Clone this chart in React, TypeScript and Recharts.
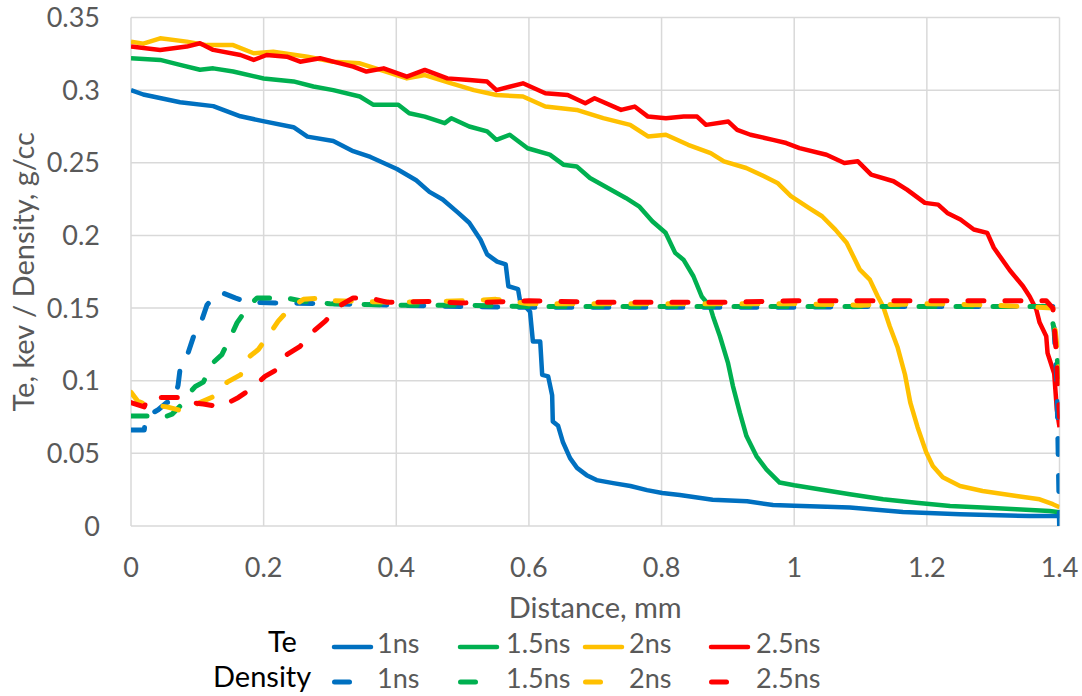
import React from 'react';
import { LineChart, Line, XAxis, YAxis, CartesianGrid } from 'recharts';

// ---- axis ticks ----
const xTicks = [0, 0.2, 0.4, 0.6, 0.8, 1, 1.2, 1.4];
const yTicks = [0, 0.05, 0.1, 0.15, 0.2, 0.25, 0.3, 0.35];

// ---- series meta ----
const seriesNames = ['1ns', '1.5ns', '2ns', '2.5ns'];
const seriesColors = ['#0070C0', '#00B050', '#FFC000', '#FF0000'];
const groupNames = ['Te', 'Density'];

// ---- Te (solid) : [distance mm, value] ----
const te1ns: [number, number][] = [
  [0, 0.3], [0.0185, 0.297], [0.074, 0.2917], [0.124, 0.289], [0.165, 0.282], [0.199, 0.2787],
  [0.245, 0.2745], [0.266, 0.268], [0.305, 0.265], [0.335, 0.258], [0.361, 0.254], [0.401, 0.2457],
  [0.43, 0.238], [0.45, 0.23], [0.47, 0.2247], [0.4935, 0.2155], [0.51, 0.2087], [0.527, 0.197],
  [0.537, 0.187], [0.552, 0.182], [0.565, 0.18], [0.569, 0.165], [0.5836, 0.163], [0.5866, 0.155],
  [0.6017, 0.1475], [0.606, 0.127], [0.617, 0.127], [0.62, 0.104], [0.629, 0.103], [0.635, 0.09],
  [0.636, 0.072], [0.644, 0.069], [0.651, 0.058], [0.662, 0.0467], [0.6725, 0.04], [0.687, 0.035],
  [0.702, 0.0316], [0.727, 0.0295], [0.753, 0.0275], [0.778, 0.0247], [0.801, 0.0227], [0.8275, 0.0213],
  [0.877, 0.018], [0.929, 0.017], [0.968, 0.0144], [1.0, 0.014], [1.084, 0.0127], [1.164, 0.0097],
  [1.25, 0.0081], [1.355, 0.0069], [1.4, 0.0069],
];

const te15ns: [number, number][] = [
  [0, 0.322], [0.044, 0.3208], [0.074, 0.3174], [0.104, 0.314], [0.124, 0.315], [0.154, 0.3128],
  [0.2, 0.308], [0.245, 0.306], [0.275, 0.3025], [0.305, 0.3], [0.345, 0.2956], [0.365, 0.29],
  [0.403, 0.29], [0.4195, 0.2841], [0.443, 0.2818], [0.473, 0.2773], [0.483, 0.2807], [0.51, 0.275],
  [0.537, 0.2716], [0.551, 0.2658], [0.571, 0.2693], [0.598, 0.26], [0.6315, 0.2556], [0.652, 0.2487],
  [0.672, 0.2475], [0.692, 0.2395], [0.719, 0.2327], [0.746, 0.2258], [0.766, 0.22], [0.786, 0.2098],
  [0.806, 0.2018], [0.8205, 0.188], [0.833, 0.1833], [0.848, 0.1719], [0.8605, 0.158], [0.873, 0.1512],
  [0.8775, 0.1444], [0.888, 0.1306], [0.9, 0.1125], [0.9076, 0.0963], [0.918, 0.078], [0.928, 0.0619],
  [0.943, 0.0481], [0.958, 0.039], [0.978, 0.0299], [1.0, 0.028], [1.084, 0.0218], [1.134, 0.0184],
  [1.184, 0.016], [1.235, 0.0138], [1.284, 0.0127], [1.335, 0.0115], [1.385, 0.0103], [1.4, 0.0095],
];

const te2ns: [number, number][] = [
  [0, 0.3334], [0.0186, 0.332], [0.044, 0.3357], [0.084, 0.3334], [0.1145, 0.331], [0.154, 0.331],
  [0.185, 0.3254], [0.2145, 0.3265], [0.266, 0.323], [0.305, 0.3196], [0.345, 0.3185], [0.376, 0.3139],
  [0.416, 0.3081], [0.443, 0.3104], [0.483, 0.3047], [0.517, 0.3], [0.551, 0.2967], [0.591, 0.2956],
  [0.6247, 0.2887], [0.672, 0.2864], [0.712, 0.2807], [0.7526, 0.2761], [0.7795, 0.2681], [0.8065, 0.2693],
  [0.84, 0.2624], [0.874, 0.2567], [0.894, 0.251], [0.9276, 0.2464], [0.9545, 0.2407], [0.9747, 0.2361],
  [0.995, 0.227], [1.022, 0.219], [1.042, 0.2132], [1.062, 0.204], [1.079, 0.195], [1.099, 0.1764],
  [1.114, 0.1696], [1.126, 0.158], [1.134, 0.1512], [1.144, 0.1375], [1.156, 0.1228], [1.167, 0.1043],
  [1.175, 0.085], [1.186, 0.068], [1.199, 0.0507], [1.209, 0.0413], [1.224, 0.0335], [1.25, 0.0275],
  [1.284, 0.0241], [1.335, 0.0207], [1.37, 0.0184], [1.39, 0.015], [1.4, 0.013],
];

const te25ns: [number, number][] = [
  [0, 0.33], [0.044, 0.3277], [0.084, 0.33], [0.104, 0.3323], [0.124, 0.3277], [0.165, 0.3242],
  [0.185, 0.3208], [0.2045, 0.3242], [0.235, 0.323], [0.255, 0.3196], [0.285, 0.322], [0.305, 0.3196],
  [0.335, 0.3162], [0.355, 0.3128], [0.381, 0.315], [0.416, 0.3093], [0.443, 0.3139], [0.477, 0.3081],
  [0.51, 0.307], [0.537, 0.3059], [0.551, 0.3], [0.591, 0.3047], [0.6247, 0.2979], [0.6584, 0.2967],
  [0.685, 0.291], [0.699, 0.2944], [0.739, 0.2864], [0.7594, 0.2887], [0.7795, 0.2818], [0.8065, 0.2807],
  [0.8334, 0.2818], [0.8536, 0.2818], [0.867, 0.2761], [0.9007, 0.2784], [0.914, 0.2727], [0.934, 0.2693],
  [0.968, 0.2658], [0.988, 0.2636], [1.008, 0.2601], [1.0487, 0.2555], [1.0756, 0.2498], [1.096, 0.251],
  [1.116, 0.2418], [1.1497, 0.2373], [1.17, 0.2315], [1.197, 0.2224], [1.217, 0.2212], [1.2308, 0.2155],
  [1.2506, 0.211], [1.2708, 0.2041], [1.291, 0.2018], [1.301, 0.1915], [1.325, 0.176], [1.345, 0.165],
  [1.355, 0.158], [1.365, 0.149], [1.37, 0.14], [1.38, 0.1306], [1.382, 0.119], [1.392, 0.105],
  [1.396, 0.08], [1.4, 0.068],
];

// ---- Density (dashed) ----
const dens1ns: [number, number][] = [
  [0, 0.066], [0.02, 0.066], [0.022, 0.075], [0.041, 0.08], [0.054, 0.085], [0.065, 0.086],
  [0.071, 0.097], [0.074, 0.108], [0.086, 0.119], [0.094, 0.13], [0.107, 0.142], [0.1145, 0.152],
  [0.125, 0.158], [0.135, 0.161], [0.157, 0.157], [0.175, 0.154], [0.22, 0.1535], [0.3, 0.153],
  [0.4, 0.152], [0.5, 0.151], [0.6, 0.1505], [0.7, 0.1505], [0.8, 0.1505], [0.9, 0.1505],
  [1.0, 0.1505], [1.1, 0.151], [1.2, 0.151], [1.3, 0.151], [1.39, 0.151], [1.396, 0.1], [1.4, 0.0],
];

const dens15ns: [number, number][] = [
  [0, 0.0757], [0.03, 0.0757], [0.045, 0.074], [0.062, 0.077], [0.074, 0.0825], [0.085, 0.09],
  [0.097, 0.096], [0.109, 0.099], [0.124, 0.1125], [0.137, 0.118], [0.152, 0.132], [0.16, 0.14],
  [0.177, 0.151], [0.19, 0.157], [0.235, 0.157], [0.255, 0.155], [0.3, 0.153], [0.4, 0.152],
  [0.5, 0.152], [0.6, 0.151], [0.7, 0.151], [0.8, 0.151], [0.9, 0.151], [1.0, 0.151],
  [1.1, 0.151], [1.2, 0.151], [1.3, 0.151], [1.385, 0.151], [1.392, 0.135], [1.4, 0.1],
];

const dens2ns: [number, number][] = [
  [0, 0.092], [0.01, 0.086], [0.02, 0.084], [0.054, 0.082], [0.079, 0.079], [0.104, 0.085],
  [0.124, 0.089], [0.145, 0.099], [0.165, 0.104], [0.177, 0.116], [0.192, 0.1215], [0.21, 0.133],
  [0.222, 0.141], [0.24, 0.15], [0.26, 0.156], [0.29, 0.157], [0.305, 0.155], [0.4, 0.154],
  [0.5, 0.155], [0.55, 0.156], [0.6, 0.153], [0.7, 0.153], [0.8, 0.153], [0.9, 0.153],
  [1.0, 0.153], [1.1, 0.152], [1.2, 0.153], [1.3, 0.152], [1.39, 0.15], [1.397, 0.12], [1.4, 0.09],
];

const dens25ns: [number, number][] = [
  [0, 0.085], [0.02, 0.082], [0.025, 0.088], [0.052, 0.0885], [0.082, 0.0885], [0.09, 0.085],
  [0.109, 0.084], [0.135, 0.082], [0.162, 0.0885], [0.183, 0.095], [0.202, 0.103], [0.22, 0.1077],
  [0.235, 0.118], [0.255, 0.1237], [0.275, 0.134], [0.293, 0.141], [0.3125, 0.151], [0.335, 0.157],
  [0.36, 0.157], [0.386, 0.154], [0.45, 0.1545], [0.5, 0.1535], [0.6, 0.155], [0.7, 0.154],
  [0.8, 0.154], [0.9, 0.154], [1.0, 0.155], [1.1, 0.155], [1.2, 0.155], [1.3, 0.155],
  [1.38, 0.155], [1.39, 0.15], [1.395, 0.12], [1.4, 0.075],
];

const teSeries = [te1ns, te15ns, te2ns, te25ns];
const densitySeries = [dens1ns, dens15ns, dens2ns, dens25ns];

const toRows = (pts: [number, number][]) => pts.map(([x, y]) => ({ x, y }));

const FONT = 'Lato, "Open Sans", sans-serif';
const GREY = '#595959';

const XTitle = (props: any) => {
  const vb = props.viewBox || { x: 131, y: 526, width: 929, height: 100 };
  return (
    <text x={vb.x + vb.width / 2} y={vb.y + 92} textAnchor="middle" fill={GREY} fontSize={29} fontFamily={FONT}>
      Distance, mm
    </text>
  );
};

const YTitle = (props: any) => {
  const vb = props.viewBox || { x: 0, y: 17.5, width: 131, height: 508.5 };
  const cx = vb.x + 34;
  const cy = vb.y + vb.height / 2;
  return (
    <text x={cx} y={cy} transform={`rotate(-90 ${cx} ${cy})`} textAnchor="middle" fill={GREY} fontSize={29} fontFamily={FONT}>
      Te, kev / Density, g/cc
    </text>
  );
};

const lineStarts = [332, 458, 583, 709];
const labelStarts = [377, 506, 629, 756];

const LegendBlock = () => (
  <svg width={1082} height={696} style={{ position: 'absolute', left: 0, top: 0, pointerEvents: 'none' }}>
    <text x={268} y={652} fontSize={29} fontFamily={FONT} fill="#000">{groupNames[0]}</text>
    <text x={213} y={687} fontSize={29} fontFamily={FONT} fill="#000">{groupNames[1]}</text>
    {seriesNames.map((name, i) => (
      <g key={name}>
        <line x1={lineStarts[i] + 2} x2={lineStarts[i] + 39} y1={647} y2={647} stroke={seriesColors[i]} strokeWidth={4.5} strokeLinecap="round" />
        <text x={labelStarts[i]} y={653} fontSize={27} fontFamily={FONT} fill={GREY}>{name}</text>
        <line x1={lineStarts[i] + 2.5} x2={lineStarts[i] + 17.5} y1={682} y2={682} stroke={seriesColors[i]} strokeWidth={5} strokeLinecap="round" />
        <text x={labelStarts[i]} y={688} fontSize={27} fontFamily={FONT} fill={GREY}>{name}</text>
      </g>
    ))}
  </svg>
);

export default function App() {
  return (
    <div style={{ position: 'absolute', left: 0, top: 0, width: 1082, height: 696, background: '#fff' }}>
      <LineChart width={1082} height={696} margin={{ top: 17.5, right: 22.5, left: 0, bottom: 70 }}>
        <CartesianGrid stroke="#D9D9D9" strokeWidth={1.5} />
        <XAxis
          type="number"
          dataKey="x"
          domain={[0, 1.4]}
          ticks={xTicks}
          allowDataOverflow
          axisLine={false}
          tickLine={false}
          tickSize={0}
          tickMargin={32}
          height={100}
          tick={{ fill: GREY, fontSize: 27, fontFamily: FONT }}
          label={XTitle}
        />
        <YAxis
          type="number"
          domain={[0, 0.35]}
          ticks={yTicks}
          allowDataOverflow
          axisLine={false}
          tickLine={false}
          tickSize={0}
          tickMargin={31}
          width={131}
          tick={{ fill: GREY, fontSize: 27, fontFamily: FONT }}
          label={YTitle}
        />
        {teSeries.map((s, i) => (
          <Line
            key={'te' + i}
            data={toRows(s)}
            dataKey="y"
            type="linear"
            stroke={seriesColors[i]}
            strokeWidth={4.5}
            strokeLinejoin="round"
            dot={false}
            activeDot={false}
            isAnimationActive={false}
            name={groupNames[0] + ' ' + seriesNames[i]}
          />
        ))}
        {densitySeries.map((s, i) => (
          <Line
            key={'d' + i}
            data={toRows(s)}
            dataKey="y"
            type="linear"
            stroke={seriesColors[i]}
            strokeWidth={5}
            strokeDasharray="16 21"
            strokeLinecap="round"
            strokeLinejoin="round"
            dot={false}
            activeDot={false}
            isAnimationActive={false}
            name={groupNames[1] + ' ' + seriesNames[i]}
          />
        ))}
      </LineChart>
      <LegendBlock />
    </div>
  );
}
